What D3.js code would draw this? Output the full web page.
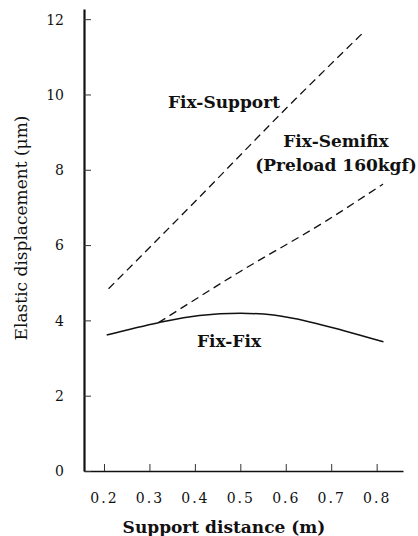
<!DOCTYPE html>
<html lang="en">
<head>
<meta charset="utf-8">
<script src="https://d3js.org/d3.v7.min.js"></script>
<style>
  body { margin: 0px; background: #fff; }
  .tick text { fill: #111; font-family: "DejaVu Serif", serif; }
  .axis-label { fill: #111; font-family: "DejaVu Serif", serif; }
  .curve-label { fill: #111; font-family: "DejaVu Serif", serif; font-weight: bold; font-size: 17px; }
</style>
</head>
<body>
<svg width="418" height="536"></svg>
<script>

  // data (support distance in m, displacement in um)
  const fixSupport = [[0.21, 4.84], [0.40, 7.15], [0.60, 9.62], [0.77, 11.64]];
  const fixSemifix = [[0.32, 3.94], [0.50, 5.30], [0.69, 6.65], [0.814, 7.62]];
  const fixFix = [[0.206, 3.61], [0.32, 3.94], [0.41, 4.13], [0.50, 4.19],
                  [0.573, 4.14], [0.653, 3.96], [0.73, 3.72], [0.815, 3.43]];
  const xTicks = [0.2, 0.3, 0.4, 0.5, 0.6, 0.7, 0.8];
  const yTicks = [0, 2, 4, 6, 8, 10, 12];
  const xLabel = 'Support distance (m)';
  const yLabel = 'Elastic displacement (\u03bcm)';

  const svg = d3.select('svg');

  const xScale = d3.scaleLinear()
    .domain([0.156, 0.858])
    .range([84, 403]);

  const yScale = d3.scaleLinear()
    .domain([0, 12.27])
    .range([471, 9]);

  const xAxis = d3.axisBottom(xScale)
    .tickValues(xTicks)
    .tickFormat(d3.format('.1f'))
    .tickSizeInner(-7)
    .tickSizeOuter(0)
    .tickPadding(22);

  const yAxis = d3.axisLeft(yScale)
    .tickValues(yTicks)
    .tickFormat(d3.format('d'))
    .tickSizeInner(-7)
    .tickSizeOuter(0)
    .tickPadding(20);

  const xAxisG = svg.append('g')
    .attr('transform', `translate(0, ${yScale(0)})`)
    .call(xAxis);
  xAxisG.select('.domain').attr('stroke', '#111').attr('stroke-width', 1.6);
  xAxisG.selectAll('.tick line').attr('stroke', '#333');
  xAxisG.selectAll('.tick text')
    .style('font-size', '14px')
    .style('letter-spacing', '2px');

  const yAxisG = svg.append('g')
    .attr('transform', `translate(${xScale.range()[0]}, 0)`)
    .call(yAxis);
  yAxisG.select('.domain').attr('stroke', '#111').attr('stroke-width', 2.2);
  yAxisG.selectAll('.tick line').attr('stroke', '#333');
  yAxisG.selectAll('.tick text')
    .style('font-size', '14px')
    .attr('dy', '0.35em');

  svg.append('text')
    .attr('class', 'axis-label')
    .attr('x', 224)
    .attr('y', 533)
    .attr('text-anchor', 'middle')
    .style('font-size', '17px')
    .style('font-weight', 'bold')
    .text(xLabel);

  svg.append('text')
    .attr('class', 'axis-label')
    .attr('transform', 'translate(27, 228) rotate(-90)')
    .attr('text-anchor', 'middle')
    .style('font-size', '17px')
    .text(yLabel);

  const line = d3.line()
    .x(d => xScale(d[0]))
    .y(d => yScale(d[1]))
    .curve(d3.curveMonotoneX);

  svg.append('path').datum(fixSupport)
    .attr('d', line)
    .attr('fill', 'none')
    .attr('stroke', '#111')
    .attr('stroke-width', 1.3)
    .attr('stroke-dasharray', '8,5');

  svg.append('path').datum(fixSemifix)
    .attr('d', line)
    .attr('fill', 'none')
    .attr('stroke', '#111')
    .attr('stroke-width', 1.3)
    .attr('stroke-dasharray', '8,5');

  svg.append('path').datum(fixFix)
    .attr('d', line)
    .attr('fill', 'none')
    .attr('stroke', '#111')
    .attr('stroke-width', 1.5);

  // curve names
  const labels = [
    { text: 'Fix-Support', x: 224, y: 108 },
    { text: 'Fix-Semifix', x: 336, y: 147 },
    { text: '(Preload 160kgf)', x: 336, y: 171 },
    { text: 'Fix-Fix', x: 229, y: 347 }
  ];
  svg.selectAll('.curve-label').data(labels)
    .enter().append('text')
      .attr('class', 'curve-label')
      .attr('x', d => d.x)
      .attr('y', d => d.y)
      .attr('text-anchor', 'middle')
      .text(d => d.text);

</script>
</body>
</html>
